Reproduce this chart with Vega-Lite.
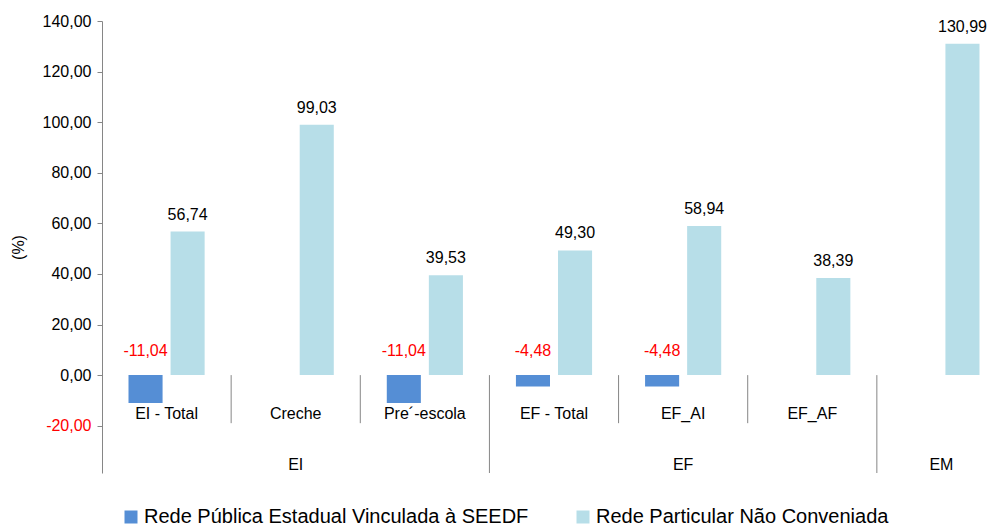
{
  "$schema": "https://vega.github.io/schema/vega-lite/v6.json",
  "autosize": {"type": "none"},
  "width": 895,
  "height": 452,
  "padding": {"left": 102, "top": 21, "right": 0, "bottom": 53},
  "config": {
    "view": {"stroke": null},
    "font": "Liberation Sans",
    "locale": {"number": {"decimal": ",", "thousands": ".", "grouping": [3], "currency": ["R$", ""], "minus": "-"}},
    "axis": {"labelFont": "Liberation Sans", "titleFont": "Liberation Sans"},
    "legend": {"labelFont": "Liberation Sans"}
  },
  "datasets": {
    "bars": [
      {"cat": "EI - Total", "serie": "Rede Pública Estadual Vinculada à SEEDF", "v": -11.04},
      {"cat": "EI - Total", "serie": "Rede Particular Não Conveniada", "v": 56.74},
      {"cat": "Creche", "serie": "Rede Particular Não Conveniada", "v": 99.03},
      {"cat": "Pre´-escola", "serie": "Rede Pública Estadual Vinculada à SEEDF", "v": -11.04},
      {"cat": "Pre´-escola", "serie": "Rede Particular Não Conveniada", "v": 39.53},
      {"cat": "EF - Total", "serie": "Rede Pública Estadual Vinculada à SEEDF", "v": -4.48},
      {"cat": "EF - Total", "serie": "Rede Particular Não Conveniada", "v": 49.30},
      {"cat": "EF_AI", "serie": "Rede Pública Estadual Vinculada à SEEDF", "v": -4.48},
      {"cat": "EF_AI", "serie": "Rede Particular Não Conveniada", "v": 58.94},
      {"cat": "EF_AF", "serie": "Rede Particular Não Conveniada", "v": 38.39},
      {"cat": "EM", "serie": "Rede Particular Não Conveniada", "v": 130.99}
    ],
    "cats": [
      {"cat": "EI - Total", "label": "EI - Total", "sep": "none", "grp": ""},
      {"cat": "Creche", "label": "Creche", "sep": "short", "grp": "EI"},
      {"cat": "Pre´-escola", "label": "Pre´-escola", "sep": "short", "grp": ""},
      {"cat": "EF - Total", "label": "EF - Total", "sep": "long", "grp": ""},
      {"cat": "EF_AI", "label": "EF_AI", "sep": "short", "grp": "EF"},
      {"cat": "EF_AF", "label": "EF_AF", "sep": "short", "grp": ""},
      {"cat": "EM", "label": "", "sep": "long", "grp": "EM"}
    ]
  },
  "layer": [
    {
      "data": {"name": "bars"},
      "mark": {"type": "bar"},
      "encoding": {
        "x": {
          "field": "cat", "type": "nominal", "axis": null,
          "scale": {"domain": ["EI - Total", "Creche", "Pre´-escola", "EF - Total", "EF_AI", "EF_AF", "EM"], "range": [0, 904], "paddingInner": 0, "paddingOuter": 0}
        },
        "xOffset": {
          "field": "serie", "type": "nominal",
          "scale": {"domain": ["Rede Pública Estadual Vinculada à SEEDF", "Rede Particular Não Conveniada"], "paddingInner": 0.19, "paddingOuter": 0.63}
        },
        "y": {
          "field": "v", "type": "quantitative",
          "scale": {"domain": [-38.7, 140], "nice": false, "zero": false},
          "axis": {
            "values": [-20, 0, 20, 40, 60, 80, 100, 120, 140],
            "format": ".2f",
            "title": "(%)",
            "titleFontSize": 16, "titleFontWeight": "normal", "titleColor": "black", "titlePadding": 16,
            "labelFontSize": 16, "labelColor": {"condition": {"test": "datum.value < 0", "value": "#FF0000"}, "value": "black"},
            "labelPadding": 6,
            "grid": false,
            "domainColor": "#868686", "tickColor": "#868686", "tickSize": 5
          }
        },
        "color": {
          "field": "serie", "type": "nominal",
          "scale": {"domain": ["Rede Pública Estadual Vinculada à SEEDF", "Rede Particular Não Conveniada"], "range": ["#558ED5", "#B7DEE8"]},
          "legend": {
            "title": null, "orient": "none", "direction": "horizontal",
            "legendX": 19, "legendY": 486,
            "symbolType": "square", "symbolSize": 169, "symbolStrokeWidth": 0,
            "labelFontSize": 20, "labelColor": "black", "labelOffset": 3,
            "columnPadding": 44, "labelLimit": 500
          }
        }
      }
    },
    {
      "data": {"name": "bars"},
      "transform": [{"filter": "datum.v >= 0"}],
      "mark": {"type": "text", "fontSize": 16, "color": "black", "baseline": "middle", "dy": -17},
      "encoding": {
        "x": {"field": "cat", "type": "nominal"},
        "xOffset": {"field": "serie", "type": "nominal"},
        "y": {"field": "v", "type": "quantitative"},
        "text": {"field": "v", "type": "quantitative", "format": ".2f"}
      }
    },
    {
      "data": {"name": "bars"},
      "transform": [{"filter": "datum.v < 0"}],
      "mark": {"type": "text", "fontSize": 16, "color": "#FF0000", "baseline": "middle", "dy": -24},
      "encoding": {
        "x": {"field": "cat", "type": "nominal"},
        "xOffset": {"field": "serie", "type": "nominal"},
        "y": {"datum": 0},
        "text": {"field": "v", "type": "quantitative", "format": ".2f"}
      }
    },
    {
      "mark": {"type": "rule", "color": "#868686", "strokeWidth": 1},
      "encoding": {"y": {"datum": 0}}
    },
    {
      "data": {"name": "cats"},
      "transform": [{"filter": "datum.sep == 'short'"}],
      "mark": {"type": "rule", "color": "#868686", "strokeWidth": 1},
      "encoding": {
        "x": {"field": "cat", "type": "nominal", "bandPosition": 0},
        "y": {"datum": 0},
        "y2": {"datum": -19}
      }
    },
    {
      "data": {"name": "cats"},
      "transform": [{"filter": "datum.sep == 'long'"}],
      "mark": {"type": "rule", "color": "#868686", "strokeWidth": 1},
      "encoding": {
        "x": {"field": "cat", "type": "nominal", "bandPosition": 0},
        "y": {"datum": 0},
        "y2": {"datum": -38.7}
      }
    },
    {
      "data": {"name": "cats"},
      "mark": {"type": "text", "fontSize": 16, "color": "black", "baseline": "middle"},
      "encoding": {
        "x": {"field": "cat", "type": "nominal"},
        "y": {"datum": -15.4},
        "text": {"field": "label"}
      }
    },
    {
      "data": {"name": "cats"},
      "transform": [{"filter": "datum.grp != ''"}],
      "mark": {"type": "text", "fontSize": 16, "color": "black", "baseline": "middle"},
      "encoding": {
        "x": {"field": "cat", "type": "nominal", "bandPosition": 0.5},
        "y": {"datum": -35.6},
        "text": {"field": "grp"}
      }
    }
  ]
}
